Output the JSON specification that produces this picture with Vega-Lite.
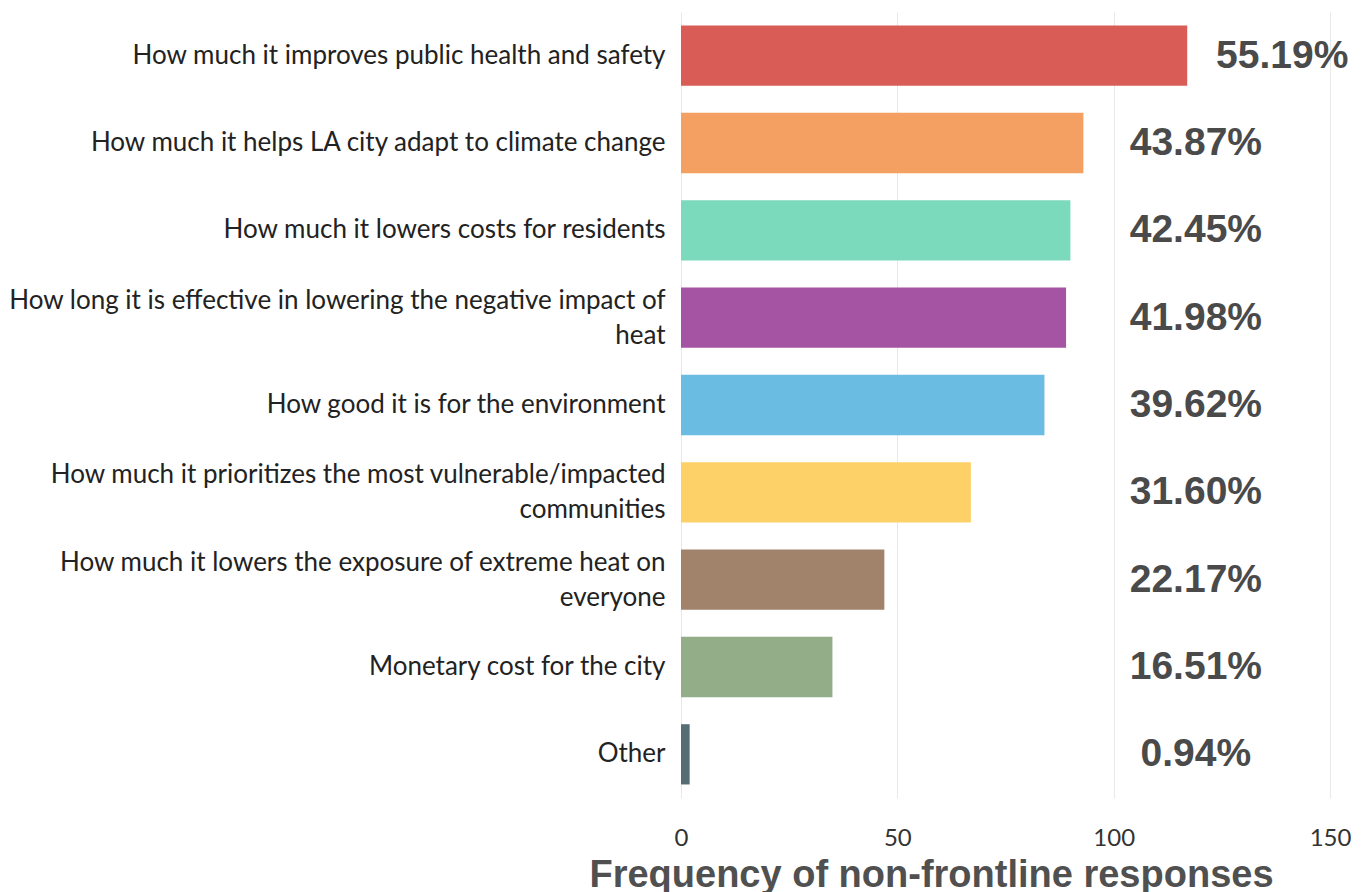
{
  "$schema": "https://vega.github.io/schema/vega-lite/v6.json",
  "autosize": {"type": "none"},
  "padding": {"left": 681, "top": 12, "right": 38, "bottom": 94},
  "width": 649,
  "height": 786,
  "background": "white",
  "data": {
    "values": [
      {"factor": "How much it improves public health and safety", "count": 117, "pct": "55.19%"},
      {"factor": "How much it helps LA city adapt to climate change", "count": 93, "pct": "43.87%"},
      {"factor": "How much it lowers costs for residents", "count": 90, "pct": "42.45%"},
      {"factor": "How long it is effective in lowering the negative impact of heat", "count": 89, "pct": "41.98%"},
      {"factor": "How good it is for the environment", "count": 84, "pct": "39.62%"},
      {"factor": "How much it prioritizes the most vulnerable/impacted communities", "count": 67, "pct": "31.60%"},
      {"factor": "How much it lowers the exposure of extreme heat on everyone", "count": 47, "pct": "22.17%"},
      {"factor": "Monetary cost for the city", "count": 35, "pct": "16.51%"},
      {"factor": "Other", "count": 2, "pct": "0.94%"}
    ]
  },
  "config": {
    "view": {"stroke": null},
    "axis": {"zindex": 1}
  },
  "encoding": {
    "y": {
      "field": "factor",
      "type": "nominal",
      "sort": null,
      "scale": {"paddingInner": 0.31, "paddingOuter": 0.155},
      "axis": {
        "title": null,
        "domain": false,
        "ticks": false,
        "grid": false,
        "labelFont": "Lato",
        "labelFontSize": 26,
        "labelColor": "#222222",
        "labelPadding": 16,
        "labelLimit": 0,
        "labelLineHeight": 35,
        "labelOffset": {
          "condition": {
            "test": "datum.value == 'How long it is effective in lowering the negative impact of heat' || datum.value == 'How much it prioritizes the most vulnerable/impacted communities' || datum.value == 'How much it lowers the exposure of extreme heat on everyone'",
            "value": -17
          },
          "value": 0
        },
        "labelExpr": "datum.value == 'How long it is effective in lowering the negative impact of heat' ? ['How long it is effective in lowering the negative impact of', 'heat'] : datum.value == 'How much it prioritizes the most vulnerable/impacted communities' ? ['How much it prioritizes the most vulnerable/impacted', 'communities'] : datum.value == 'How much it lowers the exposure of extreme heat on everyone' ? ['How much it lowers the exposure of extreme heat on', 'everyone'] : datum.label"
      }
    }
  },
  "layer": [
    {
      "mark": {"type": "bar"},
      "encoding": {
        "x": {
          "field": "count",
          "type": "quantitative",
          "scale": {"domain": [0, 150], "nice": false},
          "axis": {
            "values": [0, 50, 100, 150],
            "domain": false,
            "ticks": false,
            "grid": true,
            "gridColor": "#000000",
            "gridOpacity": 0.09,
            "labelFont": "Lato",
            "labelFontSize": 24,
            "labelColor": "#333333",
            "labelPadding": 28,
            "labelFlush": false,
            "title": "Frequency of non-frontline responses",
            "titleFont": "Liberation Sans",
            "titleFontWeight": "bold",
            "titleFontSize": 38,
            "titleColor": "#505050",
            "titleAlign": "center",
            "titleBaseline": "alphabetic",
            "titleX": 250,
            "titleY": 88
          }
        },
        "color": {
          "field": "factor",
          "type": "nominal",
          "legend": null,
          "scale": {
            "domain": [
              "How much it improves public health and safety",
              "How much it helps LA city adapt to climate change",
              "How much it lowers costs for residents",
              "How long it is effective in lowering the negative impact of heat",
              "How good it is for the environment",
              "How much it prioritizes the most vulnerable/impacted communities",
              "How much it lowers the exposure of extreme heat on everyone",
              "Monetary cost for the city",
              "Other"
            ],
            "range": ["#d95c56", "#f4a062", "#7bd9bc", "#a553a3", "#6bbce2", "#fdd168", "#a0836a", "#92ad88", "#566e73"]
          }
        }
      }
    },
    {
      "transform": [{"filter": "datum.count > 100"}],
      "mark": {"type": "text", "align": "center", "baseline": "middle", "dx": 95, "font": "Liberation Sans", "fontWeight": "bold", "fontSize": 39, "color": "#4a4a4a"},
      "encoding": {
        "x": {"field": "count", "type": "quantitative"},
        "text": {"field": "pct", "type": "nominal"}
      }
    },
    {
      "transform": [{"filter": "datum.count <= 100"}],
      "mark": {"type": "text", "align": "center", "baseline": "middle", "font": "Liberation Sans", "fontWeight": "bold", "fontSize": 39, "color": "#4a4a4a"},
      "encoding": {
        "x": {"datum": 119},
        "text": {"field": "pct", "type": "nominal"}
      }
    }
  ]
}
